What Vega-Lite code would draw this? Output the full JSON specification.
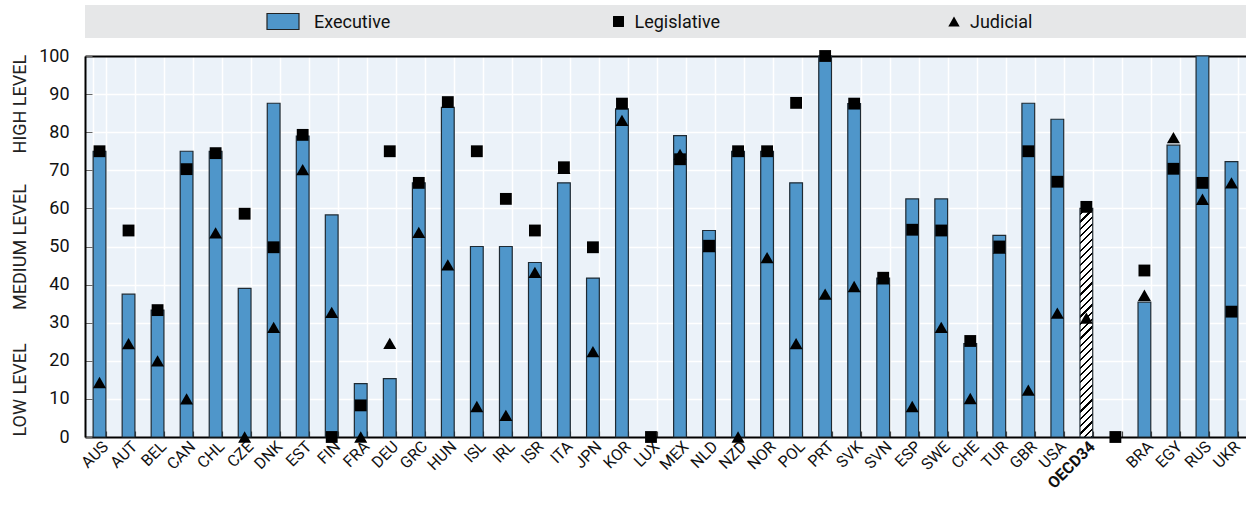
{
  "$schema": "https://vega.github.io/schema/vega-lite/v6.json",
  "padding": {"left": 11, "top": 5, "right": 0, "bottom": 0},
  "config": {
    "font": "Roboto, sans-serif",
    "axis": {"labelFont": "Roboto, sans-serif", "labelColor": "#111"},
    "text": {"font": "Roboto, sans-serif"}
  },
  "datasets": {
    "d": [
      {"c": "AUS", "exec": 75, "leg": 75, "jud": 14.3},
      {"c": "AUT", "exec": 37.5, "leg": 54.2, "jud": 24.5},
      {"c": "BEL", "exec": 33.3, "leg": 33.3, "jud": 20},
      {"c": "CAN", "exec": 75, "leg": 70.3, "jud": 10},
      {"c": "CHL", "exec": 75, "leg": 74.5, "jud": 53.6},
      {"c": "CZE", "exec": 39, "leg": 58.6, "jud": 0},
      {"c": "DNK", "exec": 87.6, "leg": 49.8, "jud": 28.8},
      {"c": "EST", "exec": 79, "leg": 79.3, "jud": 70.2},
      {"c": "FIN", "exec": 58.3, "leg": 0, "jud": 32.7},
      {"c": "FRA", "exec": 14, "leg": 8.3, "jud": 0},
      {"c": "DEU", "exec": 15.3, "leg": 75, "jud": 24.6},
      {"c": "GRC", "exec": 66.7, "leg": 66.7, "jud": 53.7},
      {"c": "HUN", "exec": 86.5, "leg": 87.9, "jud": 45.2},
      {"c": "ISL", "exec": 50, "leg": 75, "jud": 8},
      {"c": "IRL", "exec": 50, "leg": 62.5, "jud": 5.7},
      {"c": "ISR", "exec": 45.8, "leg": 54.2, "jud": 43.2},
      {"c": "ITA", "exec": 66.7, "leg": 70.8, "jud": 70.5},
      {"c": "JPN", "exec": 41.7, "leg": 49.8, "jud": 22.4},
      {"c": "KOR", "exec": 86.1, "leg": 87.5, "jud": 83.1},
      {"c": "LUX", "exec": null, "leg": 0, "jud": null},
      {"c": "MEX", "exec": 79.1, "leg": 72.9, "jud": 74.2},
      {"c": "NLD", "exec": 54.2, "leg": 50.2, "jud": 50},
      {"c": "NZD", "exec": 75, "leg": 75, "jud": 0},
      {"c": "NOR", "exec": 75, "leg": 75, "jud": 47.1},
      {"c": "POL", "exec": 66.7, "leg": 87.7, "jud": 24.5},
      {"c": "PRT", "exec": 100, "leg": 100, "jud": 37.5},
      {"c": "SVK", "exec": 87.5, "leg": 87.5, "jud": 39.5},
      {"c": "SVN", "exec": 41.7, "leg": 41.8, "jud": 41.5},
      {"c": "ESP", "exec": 62.5, "leg": 54.4, "jud": 8},
      {"c": "SWE", "exec": 62.5, "leg": 54.2, "jud": 28.8},
      {"c": "CHE", "exec": 24.5, "leg": 25.2, "jud": 10.1},
      {"c": "TUR", "exec": 52.9, "leg": 50, "jud": 49.6},
      {"c": "GBR", "exec": 87.6, "leg": 75, "jud": 12.3},
      {"c": "USA", "exec": 83.4, "leg": 67, "jud": 32.5},
      {"c": "OECD34", "exec": 60, "leg": 60.4, "jud": 31.2},
      {"c": "gap", "exec": null, "leg": 0, "jud": null},
      {"c": "BRA", "exec": 35.4, "leg": 43.7, "jud": 37.2},
      {"c": "EGY", "exec": 76.6, "leg": 70.4, "jud": 78.6},
      {"c": "RUS", "exec": 100, "leg": 66.7, "jud": 62.4},
      {"c": "UKR", "exec": 72.3, "leg": 32.9, "jud": 66.7}
    ],
    "lg": [
      {"item": "Executive"},
      {"item": "Legislative"},
      {"item": "Judicial"}
    ]
  },
  "spacing": 9,
  "resolve": {"scale": {"x": "independent", "y": "independent"}},
  "vconcat": [
    {
      "width": 1161,
      "height": 33,
      "view": {"fill": "#e6e7e8", "stroke": null},
      "data": {"name": "lg"},
      "encoding": {
        "x": {"field": "item", "type": "nominal", "scale": {"type": "point", "padding": 0, "domain": ["Executive", "Legislative", "Judicial"], "range": [198, 869]}, "axis": null}
      },
      "layer": [
        {
          "transform": [{"filter": "datum.item == 'Executive'"}],
          "mark": {"type": "point", "shape": "M-1,-0.5H1V0.5H-1Z", "size": 1024, "filled": true, "fill": "#4f96ca", "stroke": "#222", "strokeWidth": 1.2, "opacity": 1}
        },
        {
          "transform": [{"filter": "datum.item == 'Legislative'"}],
          "mark": {"type": "point", "shape": "square", "size": 120, "filled": true, "fill": "#000", "opacity": 1}
        },
        {
          "transform": [{"filter": "datum.item == 'Judicial'"}],
          "mark": {"type": "point", "shape": "triangle-up", "size": 130, "filled": true, "fill": "#000", "opacity": 1}
        },
        {
          "transform": [{"filter": "datum.item == 'Executive'"}],
          "mark": {"type": "text", "align": "left", "baseline": "middle", "dx": 31, "dy": 1, "fontSize": 18, "color": "#111"},
          "encoding": {"text": {"field": "item"}}
        },
        {
          "transform": [{"filter": "datum.item != 'Executive'"}],
          "mark": {"type": "text", "align": "left", "baseline": "middle", "dx": 16, "dy": 1, "fontSize": 18, "color": "#111"},
          "encoding": {"text": {"field": "item"}}
        }
      ]
    },
    {
      "width": 1161,
      "height": 381,
      "view": {"fill": "#ebf2f9", "stroke": null},
      "data": {"name": "d"},
      "encoding": {
        "x": {"field": "c", "type": "nominal",
              "scale": {"domain": ["AUS","AUT","BEL","CAN","CHL","CZE","DNK","EST","FIN","FRA","DEU","GRC","HUN","ISL","IRL","ISR","ITA","JPN","KOR","LUX","MEX","NLD","NZD","NOR","POL","PRT","SVK","SVN","ESP","SWE","CHE","TUR","GBR","USA","OECD34","gap","BRA","EGY","RUS","UKR"],
                        "paddingInner": 0.56, "paddingOuter": 0.28}}
      },
      "resolve": {"axis": {"x": "independent", "y": "independent"}},
      "layer": [
        {
          "transform": [{"filter": "datum.c != 'OECD34'"}],
          "mark": {"type": "bar", "fill": "#4f96ca", "stroke": "#1e2a33", "strokeWidth": 1.2},
          "encoding": {
            "x": {"field": "c", "type": "nominal",
                  "axis": {"title": null, "labelAngle": -45, "labelFontSize": 16, "labelPadding": 7,
                           "labelExpr": "datum.value == 'gap' ? '' : datum.value",
                           "labelFontWeight": {"condition": {"test": "datum.value == 'OECD34'", "value": "bold"}, "value": "normal"},
                           "tickBand": "extent", "tickSize": -6, "tickColor": "#444", "tickWidth": 1.2,
                           "domainColor": "#000", "domainWidth": 2,
                           "grid": true, "gridColor": "#fff", "gridWidth": 1.5}},
            "y": {"field": "exec", "type": "quantitative", "scale": {"domain": [0, 100], "nice": false},
                  "axis": {"title": null, "orient": "left", "values": [0, 10, 20, 30, 40, 50, 60, 70, 80, 90, 100],
                           "labelFontSize": 18, "labelPadding": 23, "tickSize": -7, "tickColor": "#666", "tickWidth": 1,
                           "domainColor": "#000", "domainWidth": 2,
                           "grid": true, "gridColor": "#fff", "gridWidth": 1.5}}
          }
        },
        {
          "transform": [{"filter": "datum.c == 'OECD34'"}],
          "mark": {"type": "bar", "stroke": "#1e2a33", "strokeWidth": 1.2,
                   "fill": {"gradient": "linear", "x1": 0, "y1": 0, "x2": 0.0588, "y2": 1.0526, "stops": [
                     {"offset": 0, "color": "#fff"}, {"offset": 0.0212, "color": "#fff"}, {"offset": 0.0212, "color": "#000"}, {"offset": 0.0303, "color": "#000"},
                     {"offset": 0.0303, "color": "#fff"}, {"offset": 0.0515, "color": "#fff"}, {"offset": 0.0515, "color": "#000"}, {"offset": 0.0606, "color": "#000"},
                     {"offset": 0.0606, "color": "#fff"}, {"offset": 0.0818, "color": "#fff"}, {"offset": 0.0818, "color": "#000"}, {"offset": 0.0909, "color": "#000"},
                     {"offset": 0.0909, "color": "#fff"}, {"offset": 0.1121, "color": "#fff"}, {"offset": 0.1121, "color": "#000"}, {"offset": 0.1212, "color": "#000"},
                     {"offset": 0.1212, "color": "#fff"}, {"offset": 0.1424, "color": "#fff"}, {"offset": 0.1424, "color": "#000"}, {"offset": 0.1515, "color": "#000"},
                     {"offset": 0.1515, "color": "#fff"}, {"offset": 0.1727, "color": "#fff"}, {"offset": 0.1727, "color": "#000"}, {"offset": 0.1818, "color": "#000"},
                     {"offset": 0.1818, "color": "#fff"}, {"offset": 0.2030, "color": "#fff"}, {"offset": 0.2030, "color": "#000"}, {"offset": 0.2121, "color": "#000"},
                     {"offset": 0.2121, "color": "#fff"}, {"offset": 0.2333, "color": "#fff"}, {"offset": 0.2333, "color": "#000"}, {"offset": 0.2424, "color": "#000"},
                     {"offset": 0.2424, "color": "#fff"}, {"offset": 0.2636, "color": "#fff"}, {"offset": 0.2636, "color": "#000"}, {"offset": 0.2727, "color": "#000"},
                     {"offset": 0.2727, "color": "#fff"}, {"offset": 0.2939, "color": "#fff"}, {"offset": 0.2939, "color": "#000"}, {"offset": 0.3030, "color": "#000"},
                     {"offset": 0.3030, "color": "#fff"}, {"offset": 0.3242, "color": "#fff"}, {"offset": 0.3242, "color": "#000"}, {"offset": 0.3333, "color": "#000"},
                     {"offset": 0.3333, "color": "#fff"}, {"offset": 0.3545, "color": "#fff"}, {"offset": 0.3545, "color": "#000"}, {"offset": 0.3636, "color": "#000"},
                     {"offset": 0.3636, "color": "#fff"}, {"offset": 0.3848, "color": "#fff"}, {"offset": 0.3848, "color": "#000"}, {"offset": 0.3939, "color": "#000"},
                     {"offset": 0.3939, "color": "#fff"}, {"offset": 0.4152, "color": "#fff"}, {"offset": 0.4152, "color": "#000"}, {"offset": 0.4242, "color": "#000"},
                     {"offset": 0.4242, "color": "#fff"}, {"offset": 0.4455, "color": "#fff"}, {"offset": 0.4455, "color": "#000"}, {"offset": 0.4545, "color": "#000"},
                     {"offset": 0.4545, "color": "#fff"}, {"offset": 0.4758, "color": "#fff"}, {"offset": 0.4758, "color": "#000"}, {"offset": 0.4848, "color": "#000"},
                     {"offset": 0.4848, "color": "#fff"}, {"offset": 0.5061, "color": "#fff"}, {"offset": 0.5061, "color": "#000"}, {"offset": 0.5152, "color": "#000"},
                     {"offset": 0.5152, "color": "#fff"}, {"offset": 0.5364, "color": "#fff"}, {"offset": 0.5364, "color": "#000"}, {"offset": 0.5455, "color": "#000"},
                     {"offset": 0.5455, "color": "#fff"}, {"offset": 0.5667, "color": "#fff"}, {"offset": 0.5667, "color": "#000"}, {"offset": 0.5758, "color": "#000"},
                     {"offset": 0.5758, "color": "#fff"}, {"offset": 0.5970, "color": "#fff"}, {"offset": 0.5970, "color": "#000"}, {"offset": 0.6061, "color": "#000"},
                     {"offset": 0.6061, "color": "#fff"}, {"offset": 0.6273, "color": "#fff"}, {"offset": 0.6273, "color": "#000"}, {"offset": 0.6364, "color": "#000"},
                     {"offset": 0.6364, "color": "#fff"}, {"offset": 0.6576, "color": "#fff"}, {"offset": 0.6576, "color": "#000"}, {"offset": 0.6667, "color": "#000"},
                     {"offset": 0.6667, "color": "#fff"}, {"offset": 0.6879, "color": "#fff"}, {"offset": 0.6879, "color": "#000"}, {"offset": 0.6970, "color": "#000"},
                     {"offset": 0.6970, "color": "#fff"}, {"offset": 0.7182, "color": "#fff"}, {"offset": 0.7182, "color": "#000"}, {"offset": 0.7273, "color": "#000"},
                     {"offset": 0.7273, "color": "#fff"}, {"offset": 0.7485, "color": "#fff"}, {"offset": 0.7485, "color": "#000"}, {"offset": 0.7576, "color": "#000"},
                     {"offset": 0.7576, "color": "#fff"}, {"offset": 0.7788, "color": "#fff"}, {"offset": 0.7788, "color": "#000"}, {"offset": 0.7879, "color": "#000"},
                     {"offset": 0.7879, "color": "#fff"}, {"offset": 0.8091, "color": "#fff"}, {"offset": 0.8091, "color": "#000"}, {"offset": 0.8182, "color": "#000"},
                     {"offset": 0.8182, "color": "#fff"}, {"offset": 0.8394, "color": "#fff"}, {"offset": 0.8394, "color": "#000"}, {"offset": 0.8485, "color": "#000"},
                     {"offset": 0.8485, "color": "#fff"}, {"offset": 0.8697, "color": "#fff"}, {"offset": 0.8697, "color": "#000"}, {"offset": 0.8788, "color": "#000"},
                     {"offset": 0.8788, "color": "#fff"}, {"offset": 0.9000, "color": "#fff"}, {"offset": 0.9000, "color": "#000"}, {"offset": 0.9091, "color": "#000"},
                     {"offset": 0.9091, "color": "#fff"}, {"offset": 0.9303, "color": "#fff"}, {"offset": 0.9303, "color": "#000"}, {"offset": 0.9394, "color": "#000"},
                     {"offset": 0.9394, "color": "#fff"}, {"offset": 0.9606, "color": "#fff"}, {"offset": 0.9606, "color": "#000"}, {"offset": 0.9697, "color": "#000"},
                     {"offset": 0.9697, "color": "#fff"}, {"offset": 0.9909, "color": "#fff"}, {"offset": 0.9909, "color": "#000"}, {"offset": 1, "color": "#000"}
                   ]}},
          "encoding": {
            "x": {"field": "c", "type": "nominal", "axis": null},
            "y": {"field": "exec", "type": "quantitative", "axis": null}
          }
        },
        {
          "mark": {"type": "point", "shape": "triangle-up", "size": 170, "filled": true, "fill": "#000", "opacity": 1},
          "encoding": {
            "x": {"field": "c", "type": "nominal", "axis": null},
            "y": {"field": "jud", "type": "quantitative", "axis": null}
          }
        },
        {
          "mark": {"type": "point", "shape": "square", "size": 140, "filled": true, "fill": "#000", "opacity": 1},
          "encoding": {
            "x": {"field": "c", "type": "nominal",
                  "axis": {"orient": "top", "title": null, "labels": false, "ticks": false, "grid": false, "domainColor": "#000", "domainWidth": 2}},
            "y": {"field": "leg", "type": "quantitative",
                  "axis": {"orient": "left", "title": null, "values": [12.5, 50, 87.5], "grid": false, "ticks": false, "domain": false,
                           "labelExpr": "datum.value == 12.5 ? 'LOW LEVEL' : datum.value == 50 ? 'MEDIUM LEVEL' : 'HIGH LEVEL'",
                           "labelAngle": -90, "labelAlign": "center", "labelBaseline": "bottom",
                           "labelFontSize": 18, "labelPadding": 56, "labelColor": "#222"}}
          }
        }
      ]
    }
  ]
}
